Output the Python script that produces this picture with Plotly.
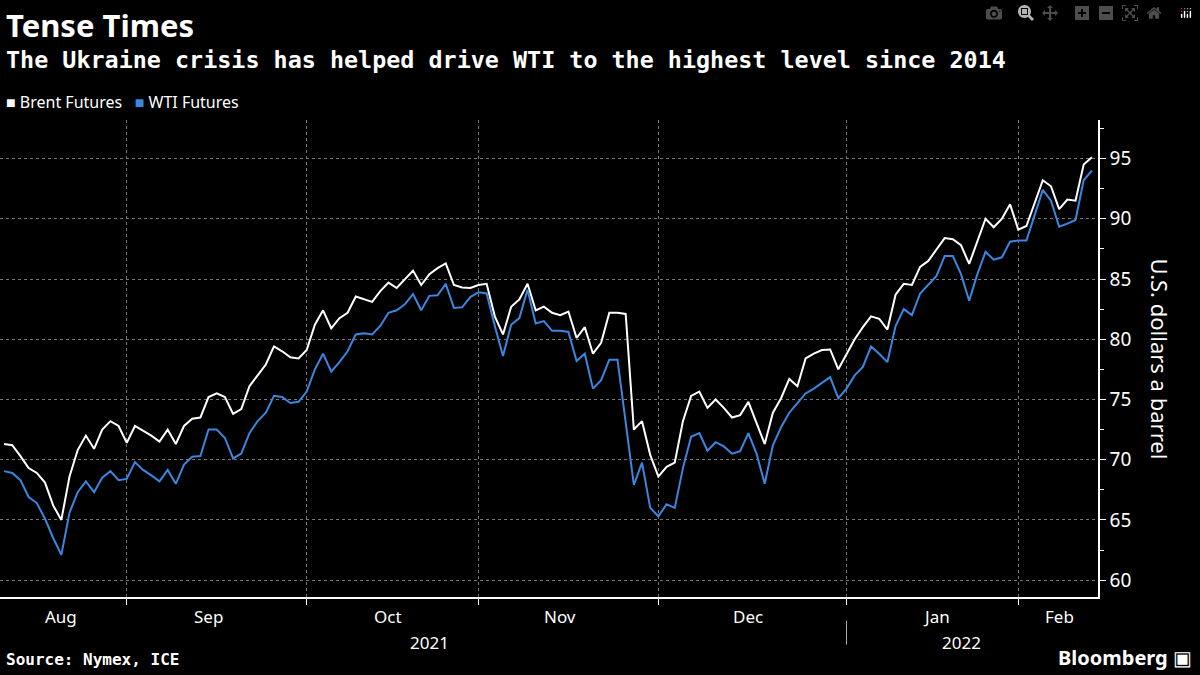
import pandas as pd
import plotly.graph_objects as go

# Daily settlements, trading days Aug 11 2021 - Feb 14 2022
dates = pd.bdate_range("2021-08-11", "2022-02-14")

brent = [71.3, 71.2, 70.3, 69.3, 68.9, 68.1, 66.2, 65.0, 68.6, 70.8, 72.0, 70.9, 72.5, 73.2, 72.8, 71.4,
         72.8, 72.4, 72.0, 71.5, 72.5, 71.3, 72.8, 73.4, 73.5, 75.2, 75.5, 75.2, 73.8, 74.2, 76.1, 77.0,
         77.9, 79.4, 79.0, 78.5, 78.4,
         79.1, 81.2, 82.4, 80.9, 81.75, 82.2, 83.55, 83.3, 83.1, 84.0, 84.7, 84.25, 85.0, 85.7, 84.5,
         85.4, 85.9, 86.3, 84.5, 84.3, 84.25, 84.5, 84.6, 81.9, 80.4, 82.7, 83.3, 84.6, 82.4, 82.7,
         82.2, 82.0, 82.3, 80.1, 81.0,
         78.8, 79.7, 82.2, 82.2, 82.1, 72.5, 73.2, 70.4, 68.6, 69.4, 69.75, 73.2, 75.3, 75.65, 74.3,
         75.0, 74.3, 73.5, 73.7, 74.8, 73.1, 71.3, 73.9, 75.1, 76.7, 76.1, 78.4, 78.8, 79.1, 79.15,
         77.5, 78.8,
         80.0, 81.0, 81.9, 81.7, 80.8, 83.7, 84.6, 84.5, 86.0, 86.5, 87.4, 88.4, 88.3, 87.8, 86.25,
         88.1, 90.0, 89.3, 90.0, 91.2, 89.1, 89.4, 91.3, 93.2, 92.7, 90.8, 91.6, 91.5, 94.5, 95.1]

wti = [69.05, 68.9, 68.3, 66.9, 66.4, 65.1, 63.5, 62.1, 65.6, 67.3, 68.2, 67.3, 68.5, 69.05, 68.3, 68.4,
       69.8, 69.15, 68.7, 68.2, 69.15, 68.0, 69.6, 70.25, 70.3, 72.5, 72.5, 71.8, 70.1, 70.5, 72.2, 73.2,
       73.9, 75.3, 75.2, 74.7, 74.8,
       75.65, 77.5, 78.8, 77.3, 78.1, 79.0, 80.4, 80.5, 80.4, 81.1, 82.2, 82.4, 82.9, 83.75, 82.4,
       83.6, 83.65, 84.6, 82.6, 82.65, 83.5, 83.9, 83.8, 81.1, 78.6, 81.2, 81.75, 84.1, 81.3, 81.5,
       80.7, 80.7, 80.6, 78.2, 78.8,
       75.9, 76.6, 78.3, 78.3, None, 67.9, 69.75, 66.0, 65.3, 66.3, 66.0, 69.3, 71.9, 72.2, 70.75,
       71.45, 71.1, 70.5, 70.7, 72.2, 70.5, 68.0, 71.2, 72.7, 73.9, 74.7, 75.5, 75.9, 76.4, 76.85,
       75.1, 75.9,
       77.0, 77.7, 79.4, 78.8, 78.1, 81.1, 82.5, 82.0, 83.8, 84.5, 85.25, 86.9, 86.9, 85.4, 83.2,
       85.4, 87.25, 86.6, 86.8, 88.1, 88.2, 88.2, 90.4, 92.4, 91.5, 89.35, 89.6, 89.9, 93.2, 94.0]

month_starts = ["2021-09-01", "2021-10-01", "2021-11-01", "2021-12-01", "2022-01-03", "2022-02-01"]
month_labels = ["Aug", "Sep", "Oct", "Nov", "Dec", "Jan", "Feb"]
month_label_dates = ["2021-08-20", "2021-09-15", "2021-10-15", "2021-11-15", "2021-12-16",
                     "2022-01-18", "2022-02-08"]

fig = go.Figure()
fig.add_trace(go.Scatter(x=dates, y=brent, mode="lines", name="Brent Futures",
                         line=dict(color="white", width=2)))
fig.add_trace(go.Scatter(x=dates, y=wti, mode="lines", name="WTI Futures", connectgaps=True,
                         line=dict(color="#3a86e0", width=2)))

fig.update_layout(
    width=1200, height=675,
    paper_bgcolor="black", plot_bgcolor="black",
    margin=dict(l=0, r=102, t=120, b=78),
    showlegend=False,
    font=dict(family="Noto Sans", color="white"),
    xaxis=dict(
        range=["2021-08-10 12:00", "2022-02-14 18:00"],
        rangebreaks=[dict(bounds=["sat", "mon"])],
        tickvals=month_starts, showticklabels=False,
        ticks="outside", ticklen=6, tickcolor="white",
        showgrid=True, gridcolor="#777", griddash="dot", gridwidth=1,
        showline=True, linecolor="white", linewidth=1.5, zeroline=False,
    ),
    yaxis=dict(
        side="right", range=[58.6, 98.2],
        tickvals=[60, 65, 70, 75, 80, 85, 90, 95],
        tickfont=dict(size=19, color="white"),
        ticks="outside", ticklen=6, tickcolor="white",
        minor=dict(dtick=2.5, ticks="outside", ticklen=4, tickcolor="white", showgrid=False),
        showgrid=True, gridcolor="#777", griddash="dot",
        showline=True, linecolor="white", linewidth=1.5, zeroline=False,
    ),
)

for lab, d in zip(month_labels, month_label_dates):
    fig.add_annotation(x=d, y=0, yref="paper", yanchor="top", yshift=-6, text=lab,
                       showarrow=False, font=dict(size=17, color="white"))
fig.add_annotation(x="2021-10-22", y=0, yref="paper", yanchor="top", yshift=-32, text="2021",
                   showarrow=False, font=dict(size=17, color="white"))
fig.add_annotation(x="2022-01-21", y=0, yref="paper", yanchor="top", yshift=-32, text="2022",
                   showarrow=False, font=dict(size=17, color="white"))
fig.add_shape(type="line", x0="2022-01-03", x1="2022-01-03", xref="x", yref="paper",
              y0=-0.05, y1=-0.1, line=dict(color="#aaa", width=1))

# axis title reads top to bottom
fig.add_annotation(x=1, y=0.5, xref="paper", yref="paper", xanchor="center", yanchor="middle",
                   xshift=62, text="U.S. dollars a barrel", textangle=90, showarrow=False,
                   font=dict(family="Noto Sans", size=22, color="white"))

# titles, legend, footer
fig.add_annotation(x=0.004, y=1, xref="paper", yref="paper", xanchor="left", yanchor="top",
                   yshift=118, text="<b>Tense Times</b>", showarrow=False,
                   font=dict(family="Noto Sans", size=31, color="white"))
fig.add_annotation(x=0.004, y=1, xref="paper", yref="paper", xanchor="left", yanchor="top",
                   yshift=76, text="<b>The Ukraine crisis has helped drive WTI to the highest level since 2014</b>",
                   showarrow=False, font=dict(family="DejaVu Sans Mono", size=23.4, color="white"))
fig.add_annotation(x=0.004, y=1, xref="paper", yref="paper", xanchor="left", yanchor="top",
                   yshift=31,
                   text="<span style='color:white'>■</span> Brent Futures   <span style='color:#3a86e0'>■</span> WTI Futures",
                   showarrow=False, font=dict(family="Noto Sans", size=16, color="white"))
fig.add_annotation(x=0.004, y=0, xref="paper", yref="paper", xanchor="left", yanchor="bottom",
                   yshift=-74, text="<b>Source: Nymex, ICE</b>", showarrow=False,
                   font=dict(family="DejaVu Sans Mono", size=16, color="white"))
fig.add_annotation(x=1, y=0, xref="paper", yref="paper", xanchor="right", yanchor="bottom",
                   xshift=96, yshift=-76, text="<b>Bloomberg</b> ▣", showarrow=False,
                   font=dict(family="Noto Sans", size=20, color="white"))

fig.write_html("out.html", post_script="document.body.style.margin='0';")
